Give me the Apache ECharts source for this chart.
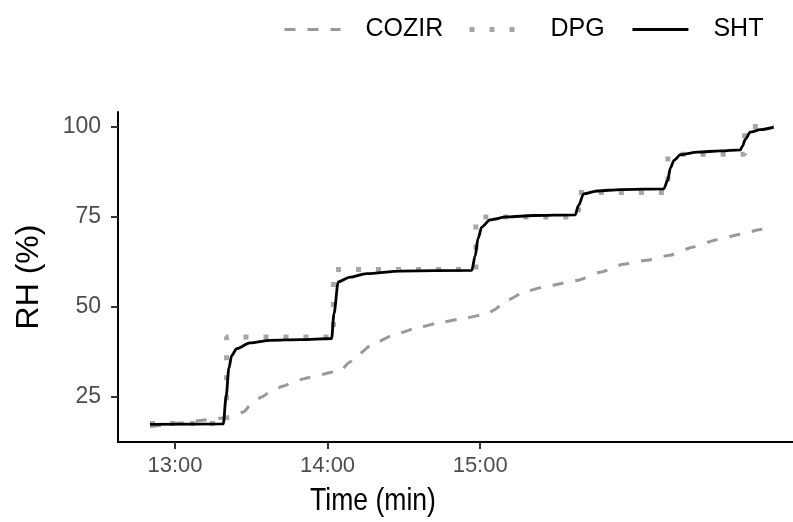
<!DOCTYPE html>
<html>
<head>
<meta charset="utf-8">
<script src="https://cdn.jsdelivr.net/npm/echarts@6/dist/echarts.min.js"></script>
<style>
html,body{margin:0;padding:0;background:#fff;}
#chart{width:793px;height:522px;}
</style>
</head>
<body>
<div id="chart"></div>
<script>
// Time in minutes after 12:00
var cozirTime = [50.2, 62.0, 73.8, 80.9, 86.9, 90.2, 94.1, 98.0, 102.6, 107.9, 113.1, 122.3, 124.9, 128.8, 132.1, 138.0, 147.2, 156.4, 165.5, 174.8, 183.2, 185.2, 190.5, 198.4, 207.5, 218.0, 227.2, 236.4, 245.6, 254.7, 263.9, 273.1, 282.3, 290.2, 295.3];
var cozirRH   = [16.7, 17.8, 18.7, 19.3, 20.8, 23.2, 25.0, 26.7, 28.0, 29.6, 30.4, 31.9, 32.2, 34.7, 36.8, 39.8, 42.5, 44.4, 45.8, 47.0, 48.1, 49.0, 51.8, 54.4, 55.9, 57.3, 59.6, 61.8, 62.9, 64.3, 66.6, 68.6, 70.1, 71.4, 72.3];

var dpgTime = [50.2, 80.3, 80.3, 122.3, 122.3, 178.3, 178.3, 218.7, 218.7, 253.8, 253.8, 284.0, 284.0, 295.4];
var dpgRH   = [17.6, 17.6, 41.6, 41.6, 60.3, 60.3, 74.9, 74.9, 81.7, 81.7, 92.3, 92.3, 100.0, 100.0];

var shtTime = [50.2, 79.0, 80.1, 81.2, 82.3, 84.3, 89.5, 97.4, 109.2, 121.6, 122.5, 124.2, 128.8, 135.4, 148.5, 176.7, 178.0, 179.2, 180.6, 183.9, 190.5, 201.0, 217.4, 218.6, 220.7, 226.0, 235.1, 252.2, 253.7, 254.8, 256.2, 258.8, 265.4, 274.4, 282.3, 283.1, 284.3, 286.2, 290.2, 295.4];
var shtRH   = [17.4, 17.5, 25.0, 33.0, 36.5, 38.4, 40.0, 40.7, 40.9, 41.2, 48.0, 56.9, 58.2, 59.2, 59.9, 60.1, 64.0, 69.0, 72.1, 74.1, 74.9, 75.3, 75.5, 78.0, 81.3, 82.1, 82.5, 82.7, 85.0, 88.5, 90.6, 92.2, 92.9, 93.2, 93.5, 94.5, 96.5, 98.4, 99.1, 99.8];

var seriesNames = ['COZIR', 'DPG', 'SHT'];
var xTickValues = [60, 120, 180];
var xTickLabels = ['13:00', '14:00', '15:00'];
var yTickValues = [25, 50, 75, 100];
var xTitle = 'Time (min)';
var yTitle = 'RH (%)';

function zip(a, b) { return a.map(function (v, i) { return [v, b[i]]; }); }

var FONT = '"Liberation Sans", Arial, sans-serif';
var chart = echarts.init(document.getElementById('chart'), null, {renderer: 'canvas'});

var styles = [
  {color: '#999999', width: 3, type: [11, 12], cap: 'butt'},
  {color: '#a6a6a6', width: 5, type: [5, 15], cap: 'butt'},
  {color: '#000000', width: 2.8, type: 'solid', cap: 'butt'}
];

function legendFor(i, left) {
  return {
    data: [seriesNames[i]], left: left, top: 17, padding: 0,
    itemWidth: 56, itemHeight: 14,
    itemStyle: {opacity: 0},
    lineStyle: styles[i],
    textStyle: {fontFamily: FONT, fontSize: 25, color: '#000', padding: [0, 0, 0, 20]},
    selectedMode: false
  };
}

chart.setOption({
  animation: false,
  backgroundColor: '#fff',
  legend: [legendFor(0, 283), legendFor(1, 467), legendFor(2, 631)],
  grid: {left: 118, right: 0, top: 112, bottom: 80, containLabel: false, outerBoundsMode: 'none'},
  graphic: [{
    type: 'text', x: 373, y: 501, scaleX: 0.83, silent: true,
    style: {text: xTitle, fontFamily: FONT, fontSize: 32, fill: '#000', align: 'center', verticalAlign: 'middle'}
  }],
  xAxis: {
    type: 'value', min: 37.6, max: 303,
    axisLine: {show: true, onZero: false, lineStyle: {color: '#000', width: 2}},
    axisTick: {show: true, customValues: xTickValues, length: 7, lineStyle: {color: '#333', width: 2}},
    axisLabel: {customValues: xTickValues, margin: 13, fontFamily: FONT, fontSize: 22, color: '#4d4d4d',
      formatter: function (v) { var i = xTickValues.indexOf(v); return i >= 0 ? xTickLabels[i] : ''; }},
    splitLine: {show: false}
  },
  yAxis: {
    type: 'value', min: 12.5, max: 104,
    name: yTitle, nameLocation: 'middle', nameGap: 73,
    nameTextStyle: {fontFamily: FONT, fontSize: 32, color: '#000'},
    axisLine: {show: true, onZero: false, lineStyle: {color: '#000', width: 2}},
    axisTick: {show: true, customValues: yTickValues, length: 7, lineStyle: {color: '#333', width: 2}},
    axisLabel: {customValues: yTickValues, margin: 17, fontFamily: FONT, fontSize: 23, color: '#4d4d4d'},
    splitLine: {show: false}
  },
  series: [
    {name: seriesNames[0], type: 'line', data: zip(cozirTime, cozirRH), symbol: 'none', smooth: 0.2, smoothMonotone: 'x',
      lineStyle: styles[0], itemStyle: {color: styles[0].color}, z: 2},
    {name: seriesNames[1], type: 'line', data: zip(dpgTime, dpgRH), symbol: 'none',
      lineStyle: styles[1], itemStyle: {color: styles[1].color}, z: 3},
    {name: seriesNames[2], type: 'line', data: zip(shtTime, shtRH), symbol: 'none', smooth: 0.3, smoothMonotone: 'x',
      lineStyle: {color: '#000', width: 2.8}, itemStyle: {color: '#000'}, z: 4}
  ]
});
</script>
</body>
</html>
